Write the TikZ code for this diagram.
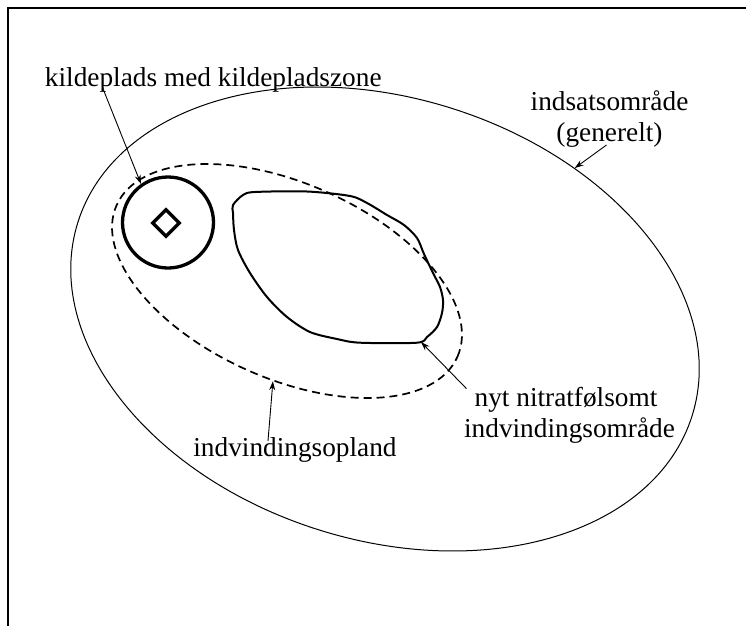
\documentclass[tikz,border=0pt]{standalone}
\usepackage{fontspec}
\setmainfont{Liberation Serif}
\usetikzlibrary{arrows.meta,shapes.geometric}
\tikzset{
  lbl/.style={anchor=base,inner sep=0pt,font=\fontsize{27.3}{33}\selectfont},
  pointer/.style={line width=0.9pt,-{Stealth[length=9pt,width=6pt]}},
}

\begin{document}
\begin{tikzpicture}[x=1pt,y=-1pt]
\useasboundingbox (0,0) rectangle (746,626);
\draw[line width=2pt] (746,8) -- (8,8) -- (8,626); % frame, only top and left

% areas
\node[draw,ellipse,line width=1pt,minimum width=644pt,minimum height=442pt,inner sep=0pt,rotate=-17.5] (indsats) at (385,319) {};
\node[draw,ellipse,dash pattern=on 8pt off 5pt,line width=1.7pt,minimum width=373pt,minimum height=195pt,inner sep=0pt,rotate=-24] (opland) at (287,281) {};
\node[draw,circle,line width=3.3pt,minimum size=91pt,inner sep=0pt] (zone) at (168,222.5) {};
\node[draw,diamond,line width=3.3pt,minimum size=28pt,inner sep=0pt] (boring) at (166,223) {};
\draw[line width=2pt] plot[smooth cycle,tension=0.5] coordinates {
  (233,205) (243,195) (255,192) (307,191.5) (350,196) (367,203) (387,215)
  (404,225) (417,238) (424,254) (433,273) (440,287) (443,300) (442,313)
  (437,327) (427,337) (417,342.7) (360,342.7) (337,339) (310,332) (287,317)
  (267,297) (250,273) (238,250) (234,230) (233,213)};
\coordinate (nitrattip) at (421,342);

% labels
\node[lbl] (kilde) at (213.3,86.7) {kildeplads med kildepladszone};
\node[lbl] (ind1) at (609.5,110) {indsatsområde};
\node[lbl] (ind2) at (609.5,141) {(generelt)};
\node[lbl] (nyt1) at (566,406) {nyt nitratfølsomt};
\node[lbl] (nyt2) at (569.5,437) {indvindingsområde};
\node[lbl] (opl) at (295,456) {indvindingsopland};

% arrows
\draw[pointer] ([xshift=58pt,yshift=-1.5pt]kilde.base west) -- (zone.125);
\draw[pointer] ([xshift=-3pt,yshift=-4pt]ind2.base) -- (indsats.56.5);
\draw[pointer] ([xshift=-8pt,yshift=-2pt]nyt1.north west) -- (nitrattip);
\draw[pointer] ([xshift=-27pt,yshift=-4pt]opl.north) -- (opland.-74);
\end{tikzpicture}
\end{document}
